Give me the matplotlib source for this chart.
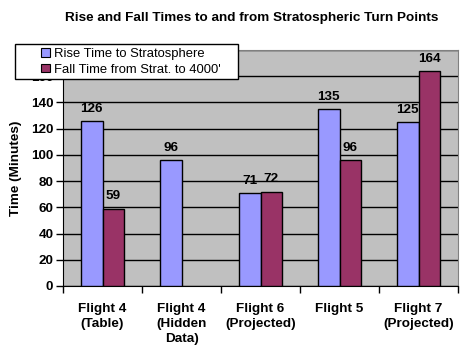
import numpy as np
import matplotlib.pyplot as plt
from matplotlib.patches import Rectangle, Patch

plt.rcParams['font.family'] = ['Liberation Sans', 'DejaVu Sans']

categories = ['Flight 4\n(Table)', 'Flight 4\n(Hidden\nData)', 'Flight 6\n(Projected)',
              'Flight 5', 'Flight 7\n(Projected)']
rise = [126, 96, 71, 135, 125]
fall = [59, np.nan, 72, 96, 164]

rise_color = '#9999FF'
fall_color = '#993366'

fig = plt.figure(figsize=(4.68, 3.56), dpi=100)
ax = fig.add_axes([63 / 468, 1 - 286 / 356, 395 / 468, 236 / 356])
ax.set_facecolor('#C0C0C0')

x = np.arange(len(categories))
w = 0.275
b1 = ax.bar(x - w / 2, rise, w, color=rise_color, edgecolor='black', linewidth=1, zorder=3)
b2 = ax.bar(x + w / 2, fall, w, color=fall_color, edgecolor='black', linewidth=1, zorder=3)

fs = 9.7
for bars, vals in ((b1, rise), (b2, fall)):
    for rect, v in zip(bars, vals):
        if np.isnan(v):
            continue
        ax.annotate(f'{v:.0f}', (rect.get_x() + rect.get_width() / 2, v),
                    xytext=(0, 4.5), textcoords='offset points',
                    ha='center', va='bottom', fontsize=fs, fontweight='bold')

ax.set_ylim(0, 180)
ax.set_xlim(-0.5, len(categories) - 0.5)
ax.set_yticks(range(0, 181, 20))
ax.yaxis.grid(True, color='black', linewidth=1, zorder=1)
ax.set_axisbelow(True)
ax.tick_params(axis='y', length=5, width=1, direction='out', labelsize=fs, pad=2)
for lab in ax.get_yticklabels():
    lab.set_fontweight('bold')

ax.set_xticks(x)
ax.set_xticklabels(categories, fontsize=fs, fontweight='bold', linespacing=1.35, va='top')
ax.set_xticks(np.arange(-0.5, len(categories)), minor=True)
ax.tick_params(axis='x', which='major', length=0, pad=12)
ax.tick_params(axis='x', which='minor', length=5, width=1, direction='out')

for s in ('left', 'bottom'):
    ax.spines[s].set_color('black')
for s in ('top', 'right'):
    ax.spines[s].set_color('#808080')

ax.set_ylabel('Time (Minutes)', fontsize=fs, fontweight='bold', labelpad=6)
fig.text(252 / 468, 1 - 18 / 356,
         'Rise and Fall Times to and from Stratospheric Turn Points',
         ha='center', va='center', fontsize=fs, fontweight='bold')

# legend box drawn over the axes
frame = Rectangle((15 / 468, 1 - 79 / 356), 223 / 468, 35 / 356, transform=fig.transFigure,
                  facecolor='white', edgecolor='black', linewidth=1, zorder=10)
fig.patches.append(frame)
handles = [Patch(facecolor=rise_color, edgecolor='black', linewidth=0.8),
           Patch(facecolor=fall_color, edgecolor='black', linewidth=0.8)]
leg = fig.legend(handles, ['Rise Time to Stratosphere', "Fall Time from Strat. to 4000'"],
                 loc='center', bbox_to_anchor=(131 / 468, 1 - 62 / 356),
                 frameon=False, fontsize=9.4, handlelength=0.65, handleheight=0.65,
                 handletextpad=0.3, labelspacing=0.25, borderpad=0)
leg.set_zorder(11)

fig.savefig('out.png', dpi=100)
